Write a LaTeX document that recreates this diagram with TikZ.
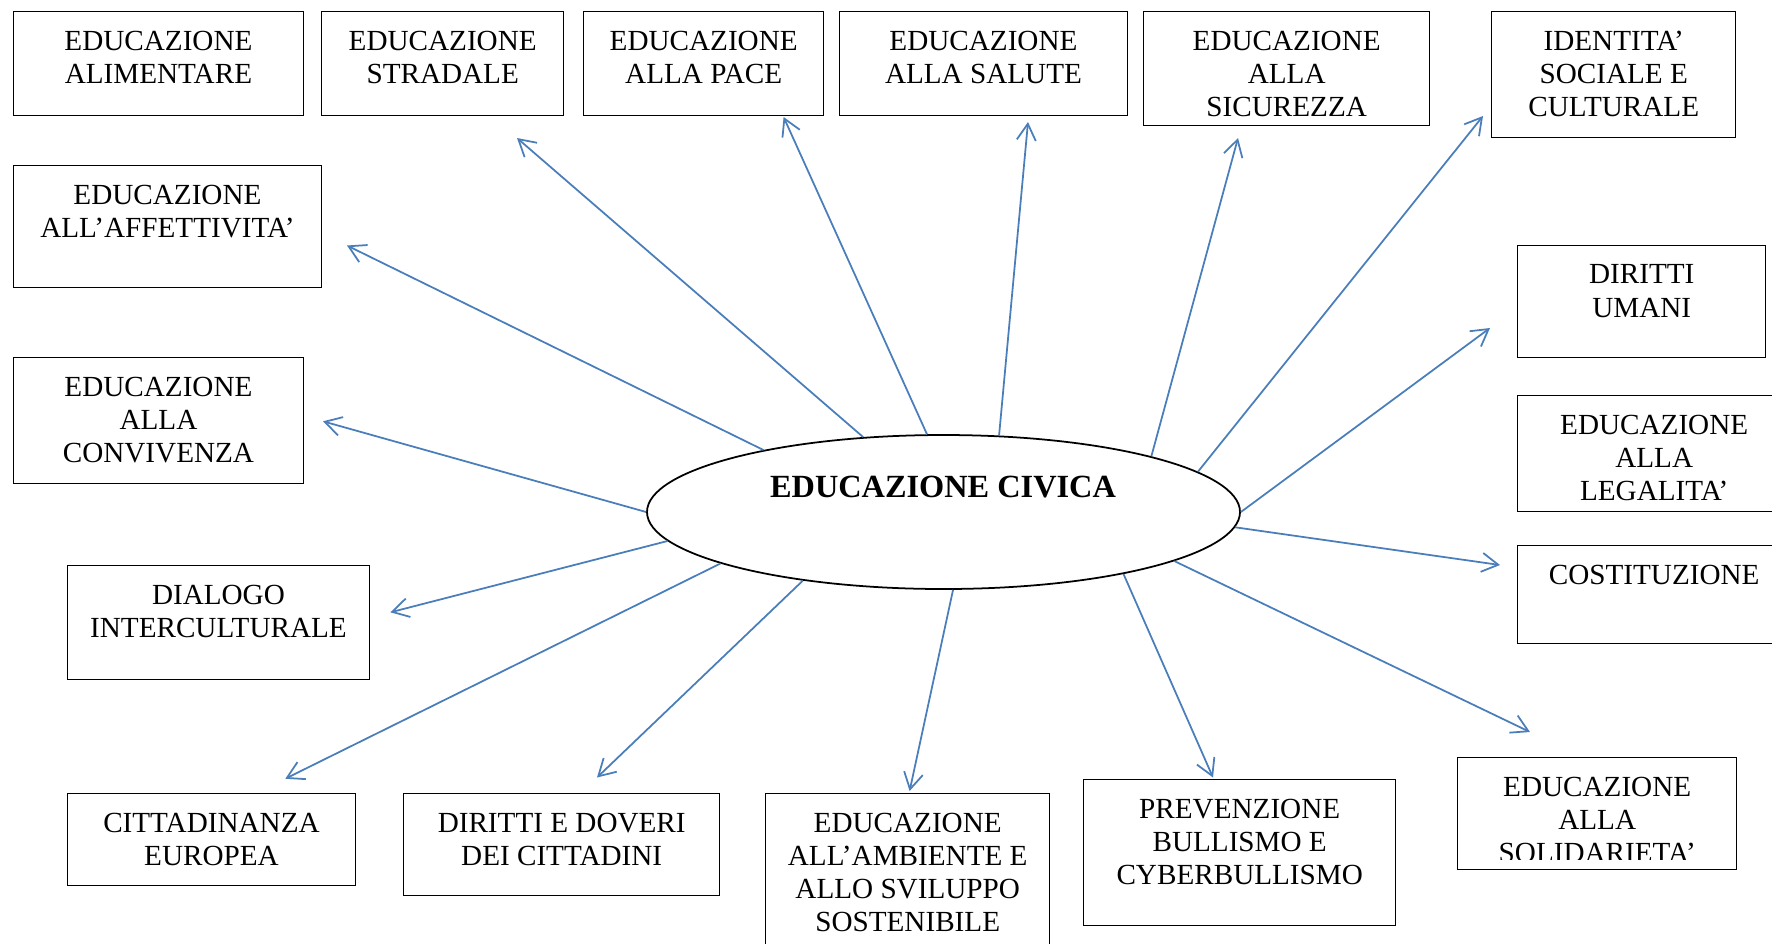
\documentclass[tikz,border=0pt]{standalone}
\usepackage{fontspec}
\setmainfont{Liberation Serif}
\usepackage{tikz}
\usetikzlibrary{shapes.geometric,arrows.meta}
\definecolor{arrowblue}{HTML}{4A7EBB}

\begin{document}
\begin{tikzpicture}[
  topic/.style={draw, rectangle, line width=0.4pt, anchor=north west, inner sep=0pt},
  lbl/.style={anchor=north, yshift=-0.19cm, inner sep=0pt, align=center, font=\fontsize{8.3}{9.45}\selectfont},
  arr/.style={draw=arrowblue, line width=0.5pt, -{Straight Barb[length=1.65mm,width=1.9mm]}}]
  \path[use as bounding box, clip] (0,0) rectangle (17.72,-9.43);
	% boxes
	\node[topic, minimum width=2.905cm, minimum height=1.04cm] (ali) at (0.125,-0.11) {};
	\node[topic, minimum width=2.42cm, minimum height=1.04cm] (str) at (3.21,-0.11) {};
	\node[topic, minimum width=2.40cm, minimum height=1.04cm] (pac) at (5.83,-0.11) {};
	\node[topic, minimum width=2.885cm, minimum height=1.04cm] (sal) at (8.385,-0.11) {};
	\node[topic, minimum width=2.86cm, minimum height=1.14cm] (sic) at (11.43,-0.11) {};
	\node[topic, minimum width=2.44cm, minimum height=1.26cm] (ide) at (14.91,-0.11) {};
	\node[topic, minimum width=3.085cm, minimum height=1.22cm] (aff) at (0.125,-1.65) {};
	\node[topic, minimum width=2.48cm, minimum height=1.12cm] (uma) at (15.17,-2.45) {};
	\node[topic, minimum width=2.905cm, minimum height=1.26cm] (con) at (0.125,-3.57) {};
	\node[topic, minimum width=2.73cm, minimum height=1.16cm] (leg) at (15.17,-3.95) {};
	\node[topic, minimum width=2.73cm, minimum height=0.98cm] (cos) at (15.17,-5.45) {};
	\node[topic, minimum width=3.025cm, minimum height=1.14cm] (dia) at (0.665,-5.65) {};
	\node[topic, minimum width=2.885cm, minimum height=0.92cm] (cit) at (0.665,-7.93) {};
	\node[topic, minimum width=3.16cm, minimum height=1.02cm] (dov) at (4.03,-7.93) {};
	\node[topic, minimum width=2.84cm, minimum height=1.67cm] (amb) at (7.65,-7.93) {};
	\node[topic, minimum width=3.12cm, minimum height=1.46cm] (pre) at (10.83,-7.79) {};
	\node[topic, minimum width=2.79cm, minimum height=1.12cm] (sol) at (14.57,-7.57) {};
	% texts
	\node[lbl] (alit) at (ali.north) {EDUCAZIONE\\ALIMENTARE};
	\node[lbl] (strt) at (str.north) {EDUCAZIONE\\STRADALE};
	\node[lbl] (pact) at (pac.north) {EDUCAZIONE\\ALLA PACE};
	\node[lbl] (salt) at (sal.north) {EDUCAZIONE\\ALLA SALUTE};
	\node[lbl] (sict) at (sic.north) {EDUCAZIONE\\ALLA\\SICUREZZA};
	\node[lbl] (idet) at (ide.north) {IDENTITA’\\SOCIALE E\\CULTURALE};
	\node[lbl] (afft) at (aff.north) {EDUCAZIONE\\ALL’AFFETTIVITA’};
	\node[lbl] (umat) at (uma.north) {DIRITTI\\UMANI};
	\node[lbl] (cont) at (con.north) {EDUCAZIONE\\ALLA\\CONVIVENZA};
	\node[lbl] (legt) at (leg.north) {EDUCAZIONE\\ALLA\\LEGALITA’};
	\node[lbl] (cost) at (cos.north) {COSTITUZIONE};
	\node[lbl] (diat) at (dia.north) {DIALOGO\\INTERCULTURALE};
	\node[lbl] (citt) at (cit.north) {CITTADINANZA\\EUROPEA};
	\node[lbl] (dovt) at (dov.north) {DIRITTI E DOVERI\\DEI CITTADINI};
	\node[lbl] (ambt) at (amb.north) {EDUCAZIONE\\ALL’AMBIENTE E\\ALLO SVILUPPO\\SOSTENIBILE};
	\node[lbl] (pret) at (pre.north) {PREVENZIONE\\BULLISMO E\\CYBERBULLISMO};
	\begin{scope}
	\clip (14.57,-7.57) rectangle (17.36,-8.59);
	\node[lbl] (solt) at (sol.north) {EDUCAZIONE\\ALLA\\SOLIDARIETA’};
	\end{scope}
	% centre
	\node[draw, ellipse, line width=0.5pt, inner sep=0pt, minimum width=5.93cm, minimum height=1.54cm] (civ) at (9.435,-5.12) {};
	\node[font=\bfseries\fontsize{9.2}{11}\selectfont, inner sep=0pt] (civt) at (9.43,-4.875) {EDUCAZIONE CIVICA};
	% arrow tips
	\coordinate (taff) at (3.47,-2.455);
	\coordinate (tstr) at (5.17,-1.38);
	\coordinate (tpac) at (7.836,-1.17);
	\coordinate (tsal) at (10.28,-1.22);
	\coordinate (tsic) at (12.38,-1.38);
	\coordinate (tide) at (14.83,-1.16);
	\coordinate (tuma) at (14.90,-3.28);
	\coordinate (tcos) at (15.00,-5.65);
	\coordinate (tsol) at (15.30,-7.32);
	\coordinate (tpre) at (12.13,-7.775);
	\coordinate (tamb) at (9.096,-7.91);
	\coordinate (tdov) at (5.97,-7.775);
	\coordinate (tcit) at (2.853,-7.787);
	\coordinate (tdia) at (3.904,-6.123);
	\coordinate (tcon) at (3.23,-4.213);
	\draw[arr] (civ.161.3) -- (taff);
	\draw[arr] (civ.137.7) -- (tstr);
	\draw[arr] (civ.102.7) -- (tpac);
	\draw[arr] (civ.54.1) -- (tsal);
	\draw[arr] (civ.15.7) -- (tsic);
	\draw[arr] (civ.9.2) -- (tide);
	\draw[arr] (civ.0) -- (tuma);
	\draw[arr] (civ.-3.8) -- (tcos);
	\draw[arr] (civ.-12.2) -- (tsol);
	\draw[arr] (civ.-19.2) -- (tpre);
	\draw[arr] (civ.-83.4) -- (tamb);
	\draw[arr] (civ.206.4) -- (tdov);
	\draw[arr] (civ.193.3) -- (tcit);
	\draw[arr] (civ.186.9) -- (tdia);
	\draw[arr] (civ.180) -- (tcon);
\end{tikzpicture}
\end{document}
